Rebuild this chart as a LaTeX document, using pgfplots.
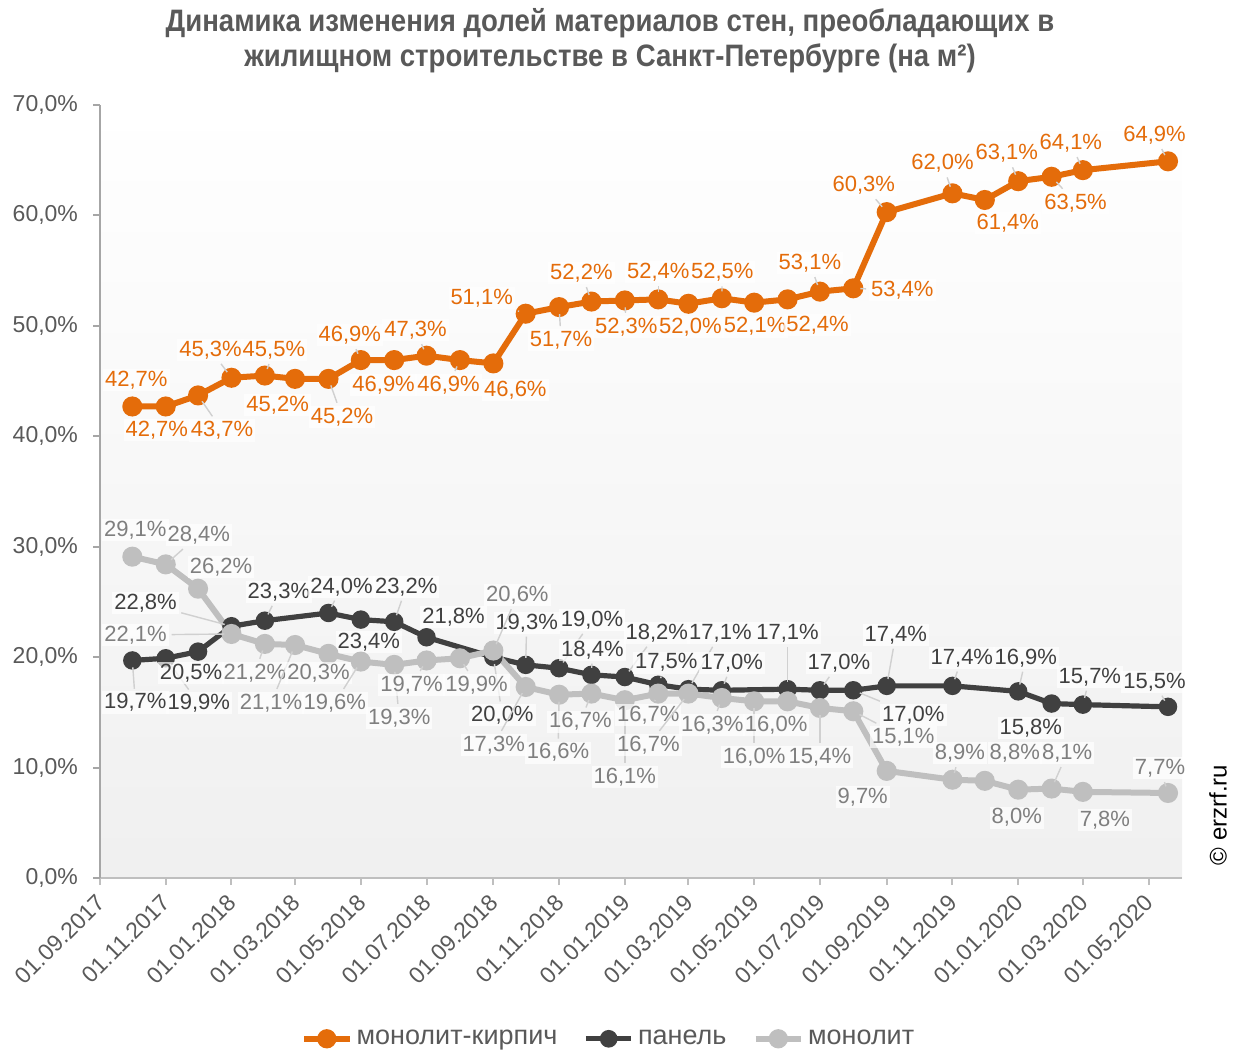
\documentclass[border=0pt]{standalone}
\usepackage{fontspec}
\setmainfont{Liberation Sans}
\usepackage{graphicx}
\usepackage{pgfplots}
\pgfplotsset{compat=1.18}
\usepackage{pgfplotstable}
\usetikzlibrary{calc}
\pgfkeys{/pgf/number format/assume math mode=true}
\definecolor{cOr}{HTML}{E46C0A}
\definecolor{cDk}{HTML}{404040}
\definecolor{cGr}{HTML}{BFBFBF}
\definecolor{cGrT}{HTML}{7F7F7F}
\definecolor{cTxt}{HTML}{595959}
\definecolor{cAx}{HTML}{A6A6A6}
\definecolor{cLd}{HTML}{D0D0D0}

% d = days since 01.09.2017, v = share (%), dx/dy = label offset (pt), ld = leader line
\pgfplotstableread{
d v dx dy ld
30 42.7 2 13.3 0
61 42.7 -4.5 -11.7 0
91 43.7 12 -17.5 1
122 45.3 -10.5 14 1
153 45.5 4.5 12.8 1
181 45.2 -8.7 -13 0
212 45.2 6.8 -19 1
242 46.9 -5.5 12.5 1
273 46.9 -5.3 -12.5 0
303 47.3 -5.5 12.8 1
334 46.9 -5.7 -12.5 1
365 46.6 11 -13.3 0
395 51.1 -22 7.8 1
426 51.7 1 -16.5 1
456 52.2 -5 14.3 1
487 52.3 0.7 -13.2 1
518 52.4 0 13.7 1
546 52.0 1 -11.7 0
577 52.5 0.2 13 1
607 52.1 0.5 -12 0
638 52.4 15 -13 0
668 53.1 -5 14.3 1
699 53.4 24.5 -1 1
730 60.3 -11.5 13.5 1
791 62.0 -5 15 1
821 61.4 11.5 -11.5 0
852 63.1 -5.7 14 1
883 63.5 12 -13 1
912 64.1 -6 13.6 1
991 64.9 -6.7 13.2 1
}\tOr

\pgfplotstableread{
d v dx dy ld
30 19.7 1.5 -21 1
61 19.9 16.5 -22.5 1
91 20.5 -3.5 -10.7 0
122 22.8 -43 11.5 1
153 23.3 7 14.3 1
212 24.0 6.5 13 1
242 23.4 4 -11.2 0
273 23.2 6 17.4 1
303 21.8 13.5 10.2 0
365 20.0 4.5 -29 1
395 19.3 0.5 21 1
426 19.0 16.5 24 1
456 18.4 0.5 12.4 1
487 18.2 16 22 1
518 17.5 4 11 1
546 17.1 16 28 1
577 17.0 5 13.6 1
638 17.1 0 28 1
668 17.0 9.5 13.6 1
699 17.0 30 -12.3 1
730 17.4 4.5 25.4 1
791 17.4 4.7 14 1
852 16.9 3.8 16.7 1
883 15.8 -10.4 -12.3 0
912 15.7 3.5 13.8 1
991 15.5 -6.7 12.4 1
}\tDk

\pgfplotstableread{
d v dx dy ld
30 29.1 1.5 13.3 0
61 28.4 16.5 14.7 1
91 26.2 11.5 10.8 0
122 22.1 -48 -0.5 1
153 21.2 -5 -14.5 1
181 21.1 -12 -29 1
212 20.3 -5 -9.6 0
242 19.6 -13 -20.7 1
273 19.3 2.5 -26.5 1
303 19.7 -7.5 -12.3 1
334 19.9 8.3 -13.4 1
365 20.6 12 27.7 1
395 17.3 -16 -29 1
426 16.6 -0.5 -29 1
456 16.7 -5.5 -14 1
487 16.1 0 -38.4 1
518 16.7 -5 -10.7 1
546 16.7 -20 -25.7 1
577 16.3 -4.8 -13.5 1
607 16.0 0 -27.8 1
638 16.0 -5.7 -11.8 0
668 15.4 0 -24.5 1
699 15.1 25 -13 1
730 9.7 -12 -13 0
791 8.9 3.7 13.3 1
821 8.8 15 13.9 0
852 8.0 -0.7 -14 0
883 8.1 7.8 17.8 1
912 7.8 11 -14 0
991 7.7 -4 12.5 1
}\tGr

\pgfplotsset{
  lbl/.style={
    point meta=y,
    nodes near coords={\pgfmathprintnumber[fixed,fixed zerofill,precision=1,use comma]{\pgfplotspointmeta}\%},
    visualization depends on={\thisrow{dx} \as \myDX},
    visualization depends on={\thisrow{dy} \as \myDY},
    visualization depends on={\thisrow{ld} \as \myLD},
    nodes near coords style={
      anchor=center, font=\fontsize{11}{13}\selectfont, text=#1,
      fill=white, fill opacity=0.7, text opacity=1, inner sep=1pt,
      xshift=\myDX pt, yshift=\myDY pt,
      append after command={(\tikzlastnode) edge[draw=cLd, line width=0.7pt, draw opacity=\myLD, fill opacity=1, shorten >=3.5pt] ($(\tikzlastnode.center)-(\myDX pt,\myDY pt)$)}
    }
  }
}

\begin{document}
\begin{tikzpicture}
\useasboundingbox (0,0) rectangle (620pt,525.5pt);
\node[align=center, text=cTxt, font=\fontsize{15.5}{17.5}\selectfont\bfseries] at (305pt,505pt)
  {\scalebox{0.89}[1]{Динамика изменения долей материалов стен, преобладающих в}\\
   \scalebox{0.89}[1]{жилищном строительстве в Санкт-Петербурге (на м²)}};
\node[rotate=90, font=\fontsize{12}{14}\selectfont] at (609pt,118pt) {© erzrf.ru};
\begin{axis}[
  at={(50pt,86.5pt)}, anchor=south west,
  scale only axis, width=541pt, height=386.5pt,
  xmin=0, xmax=1004, ymin=0, ymax=70,
  clip=false,
  axis background/.style={top color=white, bottom color=black!6},
  axis x line*=bottom, axis y line*=left,
  x axis line style={draw=cGr, line width=1pt},
  y axis line style={draw=cAx, line width=1pt},
  tick align=outside, major tick length=3.5pt,
  xtick style={draw=cGr, line width=1pt},
  ytick style={draw=cAx, line width=1pt},
  xtick={0,61,122,181,242,303,365,426,487,546,607,668,730,791,852,912,973},
  xticklabels={01.09.2017,01.11.2017,01.01.2018,01.03.2018,01.05.2018,01.07.2018,01.09.2018,01.11.2018,01.01.2019,01.03.2019,01.05.2019,01.07.2019,01.09.2019,01.11.2019,01.01.2020,01.03.2020,01.05.2020},
  ytick={0,10,20,30,40,50,60,70},
  yticklabel={\pgfmathprintnumber[fixed,fixed zerofill,precision=1,use comma]{\tick}\%},
  ticklabel style={font=\fontsize{11.5}{13}\selectfont, text=cTxt},
  yticklabel style={xshift=-4pt},
  xticklabel style={rotate=45, anchor=east, yshift=-5pt, xshift=-1pt},
  legend image code/.code={\draw[mark repeat=2,mark phase=2,#1] plot coordinates {(0cm,0cm) (0.4cm,0cm) (0.8cm,0cm)};},
  legend style={draw=none, fill=none, at={(0.471,-0.208)}, anchor=center,
    font=\fontsize{13.5}{15}\selectfont, text=cTxt,
    /tikz/every even column/.append style={column sep=11pt}},
  legend columns=3,
]
\addlegendimage{cOr, line width=3pt, mark=*, mark size=3.3pt}
\addlegendentry{монолит-кирпич}
\addlegendimage{cDk, line width=2.6pt, mark=*, mark size=3.1pt}
\addlegendentry{панель}
\addlegendimage{cGr, line width=3pt, mark=*, mark size=3.3pt}
\addlegendentry{монолит}

\addplot[forget plot, cOr, line width=3pt, mark=*, mark size=3.5pt, lbl=cOr] table[x=d, y=v] {\tOr};
\addplot[forget plot, cDk, line width=2.6pt, mark=*, mark size=3.3pt, lbl=cDk] table[x=d, y=v] {\tDk};
\addplot[forget plot, cGr, line width=3pt, mark=*, mark size=3.5pt, lbl=cGrT] table[x=d, y=v] {\tGr};
\end{axis}
\end{tikzpicture}
\end{document}
